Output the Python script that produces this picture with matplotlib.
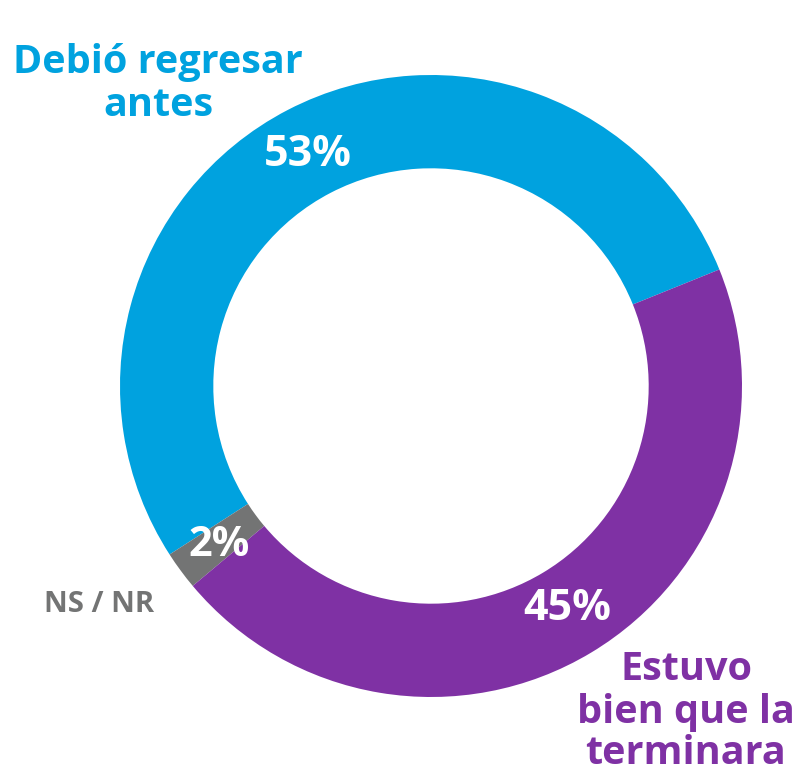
import matplotlib.pyplot as plt

# Donut data
labels = ['Debió regresar\nantes', 'NS / NR', 'Estuvo\nbien que la\nterminara']
values = [53, 2, 45]
pct_labels = ['53%', '2%', '45%']
colors = ['#00A2DF', '#737474', '#7F31A4']

plt.rcParams['font.family'] = ['Open Sans', 'DejaVu Sans']

fig = plt.figure(figsize=(7.98, 7.73), dpi=100)
ax = fig.add_axes([0, 0, 1, 1])

# pixel-like coords, y measured from the bottom
H = 773
cx, cy, r = 431, H - 386, 311
ax.pie(values, colors=colors, startangle=22, counterclock=True,
       radius=r, center=(cx, cy), frame=True,
       wedgeprops=dict(width=r * 0.30, edgecolor='none'))

ax.set_xlim(0, 798)
ax.set_ylim(0, H)
ax.set_aspect('equal')
ax.axis('off')

# percentage labels inside the ring
ax.text(308, H - 155, pct_labels[0], color='white', fontsize=31, fontweight='bold', ha='center', va='center')
ax.text(219, H - 546, pct_labels[1], color='white', fontsize=30, fontweight='bold', ha='center', va='center')
ax.text(567, H - 609, pct_labels[2], color='white', fontsize=31, fontweight='bold', ha='center', va='center')

# category labels
ax.text(158, H - 84, labels[0], color=colors[0], fontsize=28.5, fontweight='bold',
        ha='center', va='center', linespacing=1.1)
ax.text(99, H - 604, labels[1], color=colors[1], fontsize=21, fontweight='bold',
        ha='center', va='center')
ax.text(686, H - 712, labels[2], color=colors[2], fontsize=28.5, fontweight='bold',
        ha='center', va='center', linespacing=1.1)

fig.savefig('out.png', dpi=100)
